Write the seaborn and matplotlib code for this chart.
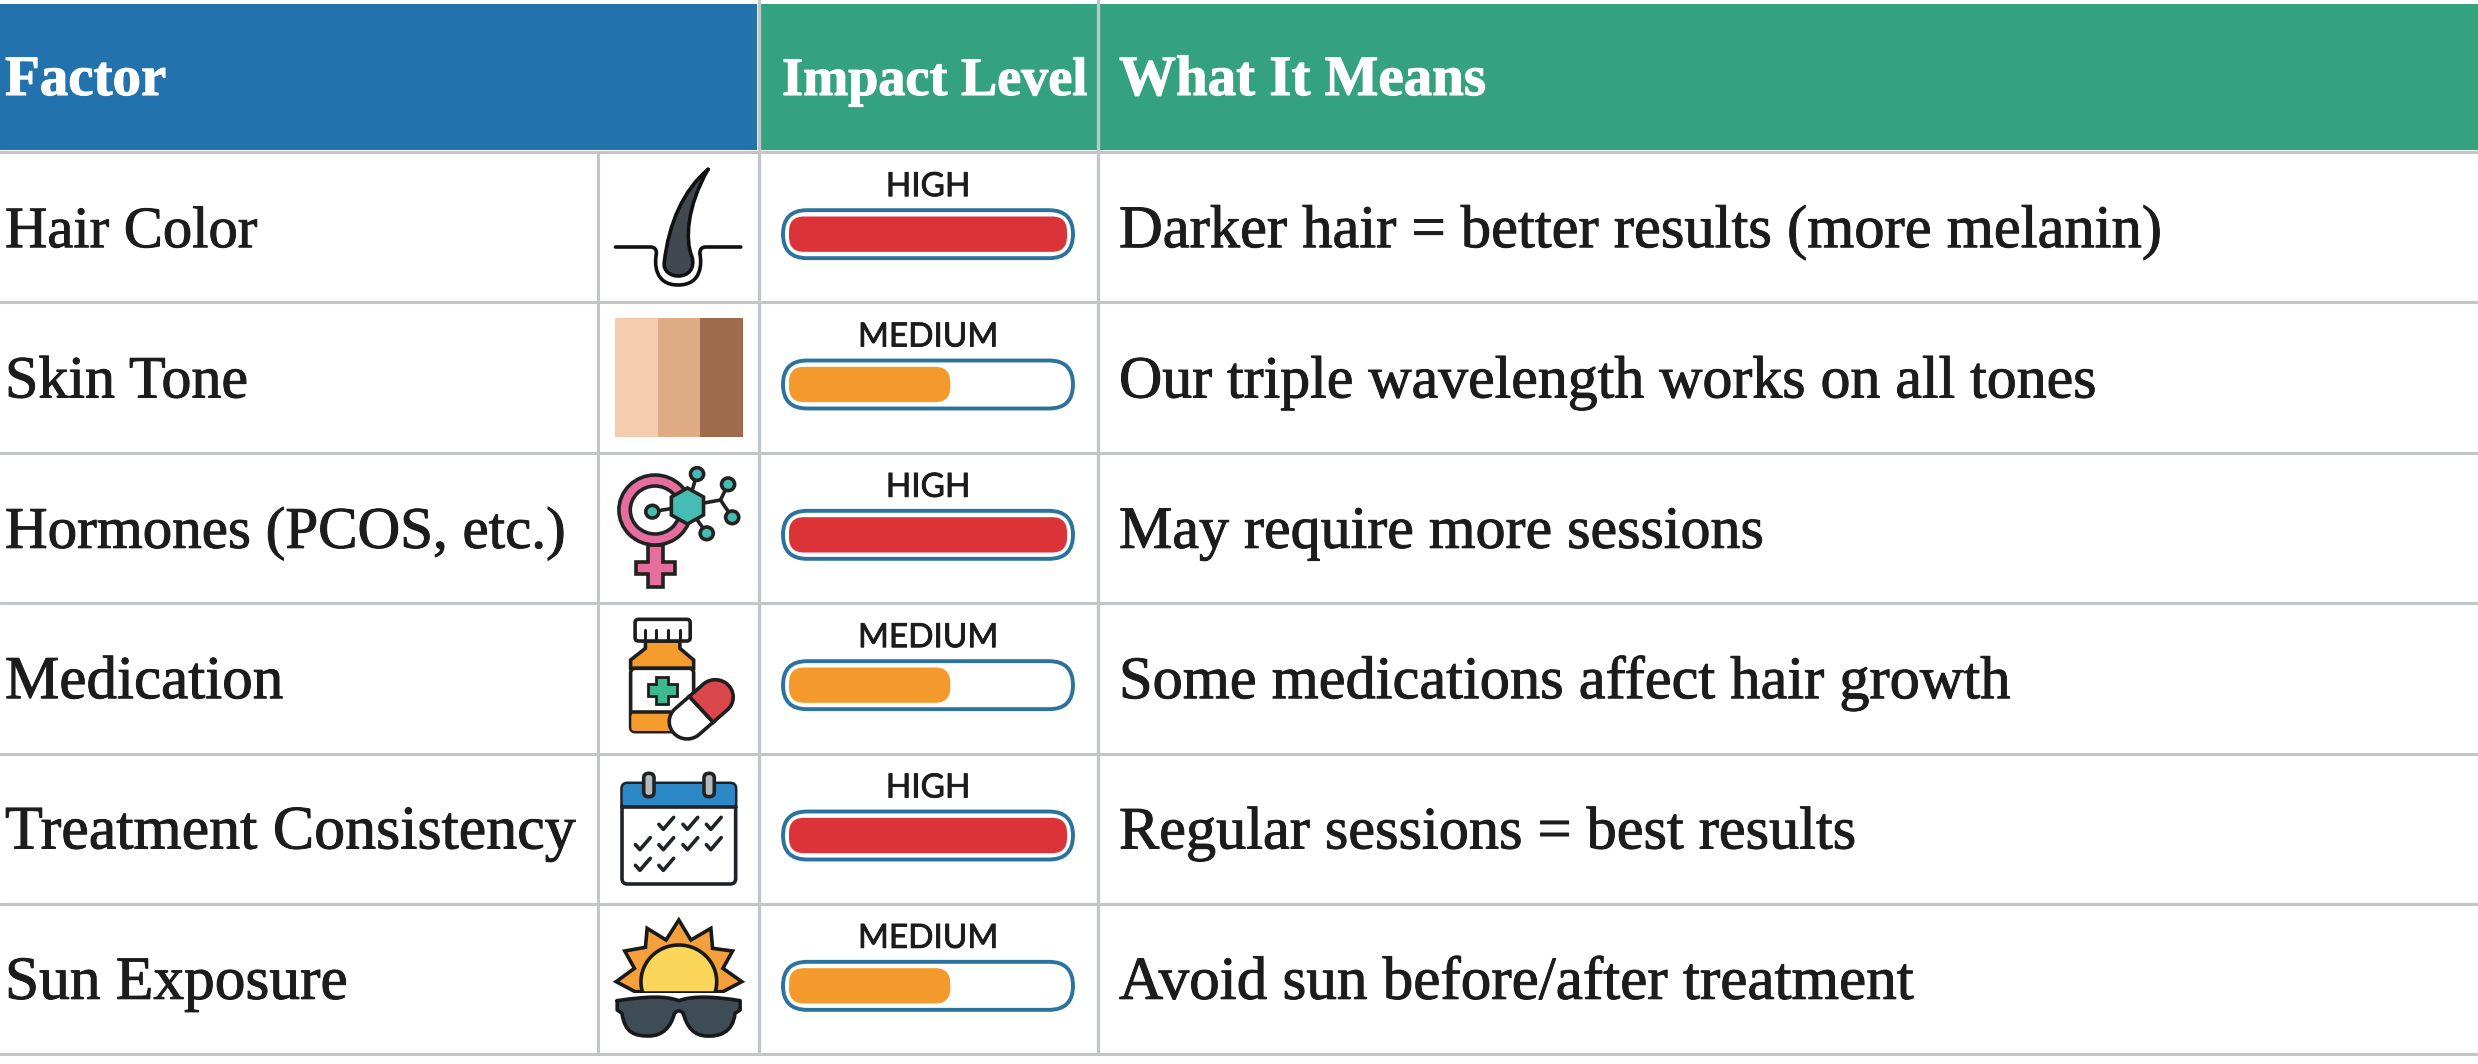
#!/usr/bin/env python3
import matplotlib
matplotlib.use("Agg")
import matplotlib.patheffects as pe
import matplotlib.pyplot as plt
import numpy as np
import pandas as pd
import seaborn as sns
from matplotlib.patches import Circle, FancyBboxPatch, PathPatch, Polygon, Rectangle
from matplotlib.path import Path
from matplotlib.transforms import Affine2D

headers = ["Factor", "Impact Level", "What It Means"]
factors = ["Hair Color", "Skin Tone", "Hormones (PCOS, etc.)", "Medication",
           "Treatment Consistency", "Sun Exposure"]
impact_labels = ["HIGH", "MEDIUM", "HIGH", "MEDIUM", "HIGH", "MEDIUM"]
impact_values = [100, 58, 100, 58, 100, 58]
meanings = ["Darker hair = better results (more melanin)",
            "Our triple wavelength works on all tones",
            "May require more sessions",
            "Some medications affect hair growth",
            "Regular sessions = best results",
            "Avoid sun before/after treatment"]

W, H = 2478, 1064
BLUE = "#2272AD"
GREEN = "#34A17F"
GRID = "#C3C6C8"
INK = "#1C1C1C"
SERIF = "Liberation Serif"
palette = {"HIGH": "#DB3338", "MEDIUM": "#F49A2C"}
row_lines = [152, 302, 453, 603, 754, 904, 1054]
# the source face has other widths, so each string gets its own size
factor_sizes = [42.2, 43.2, 42.5, 44, 44.6, 44.2]
meaning_sizes = [43.6, 43.1, 43.2, 43.5, 43.4, 44]
ICON_LW = 2.6


def zoom_tf(ax, x0, y0):
    # icons were traced in zoomed crop coordinates
    return Affine2D().scale(1 / 2.904, 1 / 3).translate(x0, y0) + ax.transData


def bez(ax, tf, verts, codes, fc, lw=ICON_LW, ec="#111111", z=3):
    ax.add_patch(PathPatch(Path(verts, codes), fc=fc, ec=ec, lw=lw, transform=tf, zorder=z,
                           joinstyle="round", capstyle="round"))


def draw_hair(ax):
    tf = zoom_tf(ax, 580, 140)
    M, L, C, Q = Path.MOVETO, Path.LINETO, Path.CURVE4, Path.CURVE3
    v = [(103, 321), (205, 321), (222, 321), (222, 340), (216, 370), (216, 435), (285, 435),
         (354, 435), (354, 370), (348, 340), (348, 321), (365, 321), (467, 321)]
    c = [M, L, Q, Q, C, C, C, C, C, L, Q, Q, L]
    bez(ax, tf, v, c, "none")
    v = [(372, 88), (300, 150), (258, 250), (245, 365), (240, 395), (265, 408), (285, 408),
         (315, 408), (335, 385), (325, 350), (305, 300), (310, 200), (372, 88)]
    c = [M, C, C, C, C, C, C, C, C, C, C, C, C]
    bez(ax, tf, v, c, "#414850")


def draw_skin(ax):
    colors = ["#F3CDAE", "#DFAC86", "#9E6C4A"]
    edges = [614.5, 657.5, 700, 743]
    for i, col in enumerate(colors):
        ax.add_patch(Rectangle((edges[i], 318), edges[i + 1] - edges[i], 119, fc=col, ec="none", zorder=3))


def draw_hormone(ax):
    tf = zoom_tf(ax, 580, 450)
    pink = "#E56E9F"
    teal = "#45BDB4"
    dark = "#222222"
    ax.add_patch(Polygon([(198, 285), (240, 285), (240, 335), (277, 335), (277, 372), (240, 372), (240, 410),
                          (198, 410), (198, 372), (163, 372), (163, 335), (198, 335)],
                         fc=pink, ec=dark, lw=ICON_LW, transform=tf, zorder=3))
    ax.add_patch(Circle((218, 180), 105, fc=pink, ec=dark, lw=ICON_LW, transform=tf, zorder=3))
    ax.add_patch(Circle((218, 180), 72, fc="white", ec=dark, lw=ICON_LW, transform=tf, zorder=3))
    centre = (312, 168)
    bonds = [(centre, (340, 72)), (centre, (408, 150)), ((408, 150), (430, 103)), ((408, 150), (442, 202)),
             (centre, (368, 250)), (centre, (210, 185))]
    for a, b in bonds:
        ax.plot([a[0], b[0]], [a[1], b[1]], color=dark, lw=ICON_LW, transform=tf, zorder=4)
    ang = np.deg2rad(np.arange(30, 390, 60))
    hexa = np.c_[centre[0] + 54 * np.cos(ang), centre[1] + 54 * np.sin(ang)]
    ax.add_patch(Polygon(hexa, fc=teal, ec=dark, lw=ICON_LW, transform=tf, zorder=5))
    for p in [(340, 72), (430, 103), (442, 202), (368, 250), (210, 185)]:
        ax.add_patch(Circle(p, 19, fc=teal, ec=dark, lw=ICON_LW, transform=tf, zorder=5))


def draw_medication(ax):
    tf = zoom_tf(ax, 580, 450)
    orange = "#F49C2E"
    dark = "#1E1E1E"
    ax.add_patch(Polygon([(190, 573), (190, 595), (147, 630), (147, 655), (330, 655), (330, 630), (290, 595),
                          (290, 573)], fc=orange, ec=dark, lw=ICON_LW, transform=tf, zorder=3))
    ax.add_patch(FancyBboxPatch((147, 655), 183, 190, boxstyle="round,pad=0,rounding_size=14", fc="white",
                                ec=dark, lw=ICON_LW, transform=tf, zorder=3))
    ax.add_patch(FancyBboxPatch((149, 790), 130, 53, boxstyle="round,pad=0,rounding_size=10", fc=orange,
                                ec="none", transform=tf, zorder=3))
    ax.plot([147, 262], [787, 787], color=dark, lw=ICON_LW, transform=tf, zorder=3)
    ax.add_patch(FancyBboxPatch((160, 508), 160, 65, boxstyle="round,pad=0,rounding_size=10", fc="white",
                                ec=dark, lw=ICON_LW, transform=tf, zorder=4))
    for x in (190, 222, 256, 290):
        ax.plot([x, x], [540, 573], color=dark, lw=2.2, transform=tf, zorder=4)
    ax.add_patch(Polygon([(222, 680), (256, 680), (256, 703), (282, 703), (282, 737), (256, 737), (256, 762),
                          (222, 762), (222, 737), (197, 737), (197, 703), (222, 703)],
                         fc="#3DB88F", ec=dark, lw=2.0, transform=tf, zorder=4))
    # capsule, built on its own axis and turned into place
    t = np.linspace(-np.pi / 2, np.pi / 2, 40)
    cap = np.c_[55 + 52 * np.cos(t), 52 * np.sin(t)]
    red_half = np.r_[[[0, -52]], cap, [[0, 52]]]
    white_half = -red_half
    rot = Affine2D().rotate_deg(-42).translate(352, 778) + tf
    ax.add_patch(Polygon(white_half, fc="white", ec=dark, lw=ICON_LW, transform=rot, zorder=5))
    ax.add_patch(Polygon(red_half, fc="#D9474B", ec=dark, lw=ICON_LW, transform=rot, zorder=5))


def draw_calendar(ax):
    tf = zoom_tf(ax, 580, 750)
    dark = "#1E2328"
    ax.add_patch(FancyBboxPatch((122, 100), 330, 302, boxstyle="round,pad=0,rounding_size=16", fc="white",
                                ec=dark, lw=ICON_LW, transform=tf, zorder=3))
    ax.add_patch(FancyBboxPatch((124, 102), 326, 70, boxstyle="round,pad=0,rounding_size=14", fc="#2C87C6",
                                ec="none", transform=tf, zorder=3))
    ax.plot([122, 452], [172, 172], color=dark, lw=ICON_LW, transform=tf, zorder=4)
    for x in (185, 360):
        ax.add_patch(FancyBboxPatch((x, 70), 30, 70, boxstyle="round,pad=0,rounding_size=14", fc="#B8BABC",
                                    ec=dark, lw=ICON_LW, transform=tf, zorder=4))
    checks = [(250, 222), (320, 222), (388, 222), (182, 283), (250, 283), (320, 283), (388, 283), (182, 345), (250, 345)]
    for x, y in checks:
        ax.plot([x - 21, x - 8, x + 22], [y + 1, y + 16, y - 20], color=dark, lw=ICON_LW, transform=tf, zorder=4)


def draw_sun(ax):
    tf = zoom_tf(ax, 580, 750)
    dark = "#17191B"
    rays = [(160, 725), (105, 695), (158, 655), (130, 603), (190, 592), (195, 535), (250, 570), (287, 510),
            (322, 570), (380, 535), (385, 595), (443, 603), (415, 655), (470, 695), (415, 725)]
    ax.add_patch(Polygon(rays, fc="#F5A03C", ec=dark, lw=ICON_LW, transform=tf, zorder=3))
    t = np.linspace(np.pi * 0.9, np.pi * 2.1, 50)
    ax.add_patch(Polygon(np.c_[287 + 110 * np.cos(t), 695 + 110 * np.sin(t)], fc="#FBD65A", ec=dark, lw=ICON_LW,
                         transform=tf, zorder=4))
    ax.add_patch(Rectangle((100, 728), 375, 18, fc="white", ec="none", transform=tf, zorder=5))
    M, L, C, Q = Path.MOVETO, Path.LINETO, Path.CURVE4, Path.CURVE3
    v = [(108, 752), (200, 738), (250, 738), (287, 752), (325, 738), (380, 738), (465, 752), (465, 780), (450, 790),
         (445, 850), (400, 860), (370, 858), (330, 858), (310, 830), (300, 790), (287, 775), (274, 790),
         (265, 830), (240, 858), (200, 858), (160, 858), (130, 850), (122, 790), (108, 780), (108, 752)]
    c = [M, C, C, C, C, C, C, L, L, C, C, C, C, C, C, Q, Q, C, C, C, C, C, C, L, L]
    bez(ax, tf, v, c, "#3E4C56", ec=dark, z=6)


def main():
    sns.set_theme(style="white")
    plt.rcParams["font.family"] = [SERIF, "DejaVu Serif"]
    df = pd.DataFrame({"factor": factors, "level": impact_labels, "impact": impact_values})

    fig = plt.figure(figsize=(W / 100, H / 100), dpi=100, facecolor="white")
    ax = fig.add_axes([0, 0, 1, 1])
    ax.set_xlim(0, W)
    ax.set_ylim(H, 0)
    ax.axis("off")

    # the source text is a bit heavier than the installed faces
    heavy_w = [pe.withStroke(linewidth=0.8, foreground="white")]
    heavy_k = [pe.withStroke(linewidth=0.7, foreground=INK)]

    # header bands
    ax.add_patch(Rectangle((0, 4), 757, 146, fc=BLUE, ec="none"))
    ax.add_patch(Rectangle((761, 4), W - 761, 146, fc=GREEN, ec="none"))
    for x, label, size in zip([5, 782, 1119], headers, [41, 39, 41]):
        ax.text(x, 95, label, color="white", fontsize=size, fontweight="bold", va="baseline", path_effects=heavy_w)

    # grid
    for y in row_lines:
        ax.plot([0, W], [y, y], color=GRID, lw=2.2, zorder=1)
    ax.plot([598, 598], [152, 1054], color=GRID, lw=2.2, zorder=1)
    ax.plot([759, 759], [0, 1054], color=GRID, lw=2.4, zorder=2)
    ax.plot([1098, 1098], [0, 1054], color=GRID, lw=2.4, zorder=2)

    # impact fills come from a bar plot sitting over the gauge column
    bax = fig.add_axes([789 / W, 1 - 1061 / H, (1067 - 789) / W, 902 / H])
    sns.barplot(data=df, y="factor", x="impact", hue="level", palette=palette, order=factors, dodge=False,
                width=0.235, legend=False, ax=bax, orient="h")
    bax.set_xlim(0, 100)
    bax.set_ylim(5.5, -0.5)
    bax.axis("off")
    bax.patch.set_alpha(0)

    bars = [b for b in bax.patches if b.get_width() > 0]
    bars.sort(key=lambda b: b.get_y())
    to_px = ax.transData.inverted()
    for i, (bar, label) in enumerate(zip(bars, impact_labels)):
        box = bar.get_window_extent()
        (x0, y0), (x1, y1) = to_px.transform([(box.x0, box.y1), (box.x1, box.y0)])
        bar.set_visible(False)
        cy = (y0 + y1) / 2
        ax.add_patch(FancyBboxPatch((x0, y0), x1 - x0, y1 - y0, boxstyle="round,pad=0,rounding_size=15",
                                    fc=palette[label], ec="none", zorder=4))
        ax.add_patch(FancyBboxPatch((783, cy - 24), 290, 48, boxstyle="round,pad=0,rounding_size=24",
                                    fc="none", ec="#2C729E", lw=2.8, zorder=4))
        ax.text(928, cy - 47, label, family="Lato", fontsize=24, color=INK, ha="center", va="center", zorder=4,
                path_effects=[pe.withStroke(linewidth=0.6, foreground=INK)])
        base = cy + 13
        ax.text(5, base, factors[i], fontsize=factor_sizes[i], color=INK, va="baseline", path_effects=heavy_k)
        ax.text(1119, base, meanings[i], fontsize=meaning_sizes[i], color=INK, va="baseline", path_effects=heavy_k)

    draw_hair(ax)
    draw_skin(ax)
    draw_hormone(ax)
    draw_medication(ax)
    draw_calendar(ax)
    draw_sun(ax)

    fig.savefig("out.png", dpi=100)


if __name__ == "__main__":
    main()
